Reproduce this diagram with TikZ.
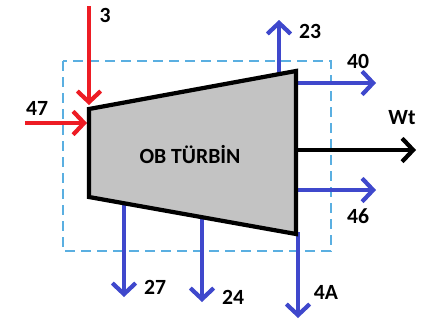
\documentclass[tikz,border=0pt]{standalone}
\usepackage{fontspec}
\setmainfont{Carlito}
\usetikzlibrary{arrows.meta,positioning,calc}
\definecolor{turbred}{RGB}{237,28,36}
\definecolor{turbblue}{RGB}{63,72,204}
\definecolor{turbgrey}{RGB}{195,195,195}
\definecolor{turbcyan}{RGB}{90,175,225}
\tikzset{
  turbine/.style={draw=black, line width=3.6pt, fill=turbgrey, line join=miter},
  inflow/.style={-{Straight Barb[length=0.33cm, width=0.7cm]}, line width=3.6pt, draw=turbred},
  outflow/.style={-{Straight Barb[length=0.33cm, width=0.7cm]}, line width=3.6pt, draw=turbblue},
  workflow/.style={-{Straight Barb[length=0.33cm, width=0.7cm]}, line width=3.6pt, draw=black},
  boundary/.style={draw=turbcyan, line width=1.1pt, dash pattern=on 0.3cm off 0.18cm},
  streamlbl/.style={font=\fontsize{18.5}{20}\selectfont\bfseries, inner sep=1pt}
}

\begin{document}
\begin{tikzpicture}[x=0.03cm, y=-0.03cm]
  \useasboundingbox (0,0) rectangle (423,327);

  % control volume
  \draw[boundary] (63,61) rectangle (331,251);

  % turbine corners
  \coordinate (tl) at (89,109);
  \coordinate (tr) at (296,71);
  \coordinate (br) at (296,234);
  \coordinate (bl) at (89,197);

  % stream ends
  \coordinate (s3) at (89,6);
  \coordinate (e3) at (89,105);
  \coordinate (s47) at (25,123);
  \coordinate (e47) at (87,123);
  \coordinate (s23) at (279,75);
  \coordinate (e23) at (279,20);
  \coordinate (s40) at (296,83);
  \coordinate (e40) at (376,83);
  \coordinate (sW) at (296,150);
  \coordinate (eW) at (416,150);
  \coordinate (s46) at (296,190);
  \coordinate (e46) at (376,190);
  \coordinate (s4A) at (298,232);
  \coordinate (e4A) at (298,318);
  \coordinate (s27) at (124,203);
  \coordinate (e27) at (124,297);
  \coordinate (s24) at (202,217);
  \coordinate (e24) at (202,302);

  \draw[inflow] (s3) -- (e3);
  \draw[inflow] (s47) -- (e47);
  \draw[outflow] (s23) -- (e23);
  \draw[outflow] (s40) -- (e40);
  \draw[workflow] (sW) -- (eW);
  \draw[outflow] (s46) -- (e46);
  \draw[outflow] (s4A) -- (e4A);
  \draw[outflow] (s27) -- (e27);
  \draw[outflow] (s24) -- (e24);

  \draw[turbine] (tl) -- (tr) -- (br) -- (bl) -- cycle;
  \node[streamlbl] (turb) at (190,155) {OB TÜRBİN};

  \node[streamlbl] (l3) at (105,15) {3};
  \node[streamlbl] (l47) at (37,108) {47};
  \node[streamlbl] (l23) at (310,31) {23};
  \node[streamlbl] (l40) at (358,61) {40};
  \node[streamlbl] (lW) at (402,118) {Wt};
  \node[streamlbl] (l46) at (358,216) {46};
  \node[streamlbl] (l4A) at (326,292) {4A};
  \node[streamlbl] (l27) at (155,287) {27};
  \node[streamlbl] (l24) at (233,297) {24};
\end{tikzpicture}
\end{document}
